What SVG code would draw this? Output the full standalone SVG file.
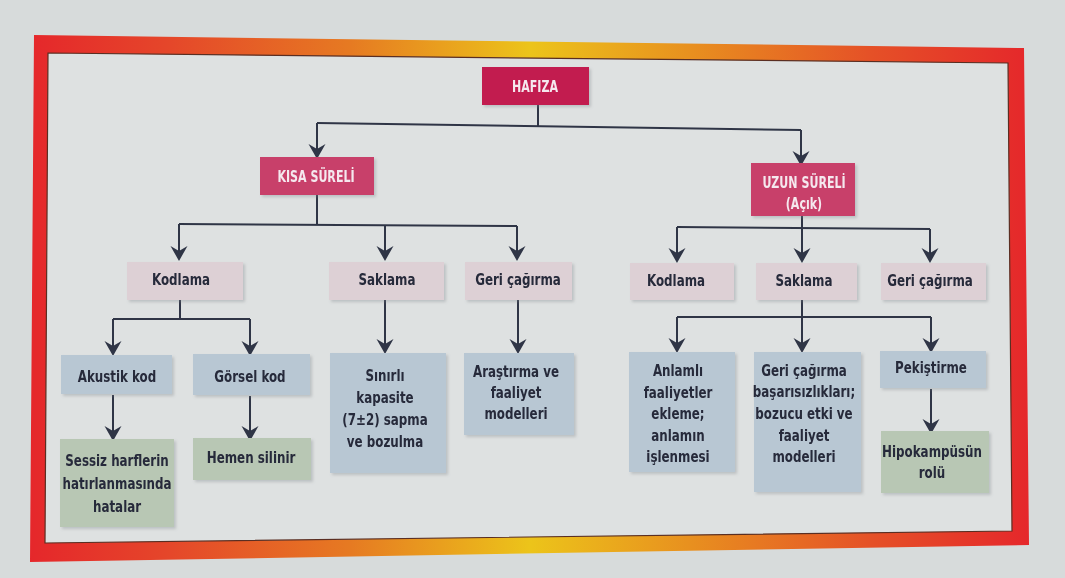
<svg xmlns="http://www.w3.org/2000/svg" width="1065" height="578" viewBox="0 0 1065 578">
  <defs>
    <linearGradient id="frameGrad" gradientUnits="userSpaceOnUse" x1="30" y1="0" x2="1030" y2="0">
      <stop offset="0" stop-color="#e5272b"/>
      <stop offset="0.14" stop-color="#e5472a"/>
      <stop offset="0.32" stop-color="#e67a22"/>
      <stop offset="0.5" stop-color="#ecc41a"/>
      <stop offset="0.66" stop-color="#e8901f"/>
      <stop offset="0.84" stop-color="#e55127"/>
      <stop offset="1" stop-color="#e5272b"/>
    </linearGradient>
    <filter id="shadow" x="-10%" y="-10%" width="125%" height="130%">
      <feDropShadow dx="2" dy="2" stdDeviation="1.5" flood-color="#7d8388" flood-opacity="0.35"/>
    </filter>
    <marker id="arrow" viewBox="-16 -9 17 18" refX="-6" refY="0" markerWidth="17" markerHeight="18" markerUnits="userSpaceOnUse" orient="auto">
      <path d="M0,0 L-15,-8.5 L-10,0 L-15,8.5 Z" fill="#2f3546"/>
    </marker>
    <style>
      text { transform-box: fill-box; transform-origin: center; text-anchor: middle; dominant-baseline: central; font-family: "DejaVu Sans Condensed", "DejaVu Sans", sans-serif; font-weight: bold; font-stretch: condensed; }
      .title { font-size: 15px; fill: #f5e8ee; transform: scaleX(0.82); }
      .lbl { font-size: 16.5px; fill: #272a3a; transform: scaleX(0.8); }
      .main { fill: #c21d50; }
      .sub { fill: #c8416b; }
      .pink { fill: #ddd0d5; }
      .blue { fill: #b8c7d3; }
      .green { fill: #b8c7b4; }
      .conn { fill: none; stroke: #2f3546; stroke-width: 2; }
      .arr { fill: none; stroke: #2f3546; stroke-width: 2; marker-end: url(#arrow); }
    </style>
  </defs>

  <!-- page background -->
  <rect x="0" y="0" width="1065" height="578" fill="#d7dbdb"/>
  <polygon points="48,53 1008,63 1012,531 45,543" fill="#dee1e1"/>

  <!-- frame -->
  <g id="frame">
    <path d="M34,35 L1024,48 L1029,545 L30,562 Z M48,53 L45,543 L1012,531 L1008,63 Z" fill="url(#frameGrad)" fill-rule="evenodd"/>
    <polygon points="48,53 1008,63 1012,531 45,543" fill="none" stroke="#5a2e22" stroke-width="1.2"/>
  </g>

  <!-- connectors -->
  <g id="connectors">
    <path class="conn" d="M538,105 V127"/>
    <path class="conn" d="M317,123 L801,130"/>
    <path class="arr" d="M317,123 V153"/>
    <path class="arr" d="M801,130 V160"/>

    <path class="conn" d="M317,195 V224"/>
    <path class="conn" d="M179,224 L517,226"/>
    <path class="arr" d="M179,224 V255"/>
    <path class="arr" d="M385,225 V255"/>
    <path class="arr" d="M517,226 V255"/>

    <path class="conn" d="M802,216 V228"/>
    <path class="conn" d="M677,227 L930,229"/>
    <path class="arr" d="M677,227 V257"/>
    <path class="arr" d="M802,228 V257"/>
    <path class="arr" d="M930,229 V257"/>

    <path class="conn" d="M180,300 V319"/>
    <path class="conn" d="M113,319 H250"/>
    <path class="arr" d="M113,319 V350"/>
    <path class="arr" d="M250,319 V350"/>

    <path class="arr" d="M113,395 V435"/>
    <path class="arr" d="M250,396 V435"/>

    <path class="arr" d="M385,300 V348"/>
    <path class="arr" d="M518,300 V348"/>

    <path class="conn" d="M802,300 V317"/>
    <path class="conn" d="M677,317 H931"/>
    <path class="arr" d="M677,317 V347"/>
    <path class="arr" d="M802,317 V347"/>
    <path class="arr" d="M931,317 V347"/>

    <path class="arr" d="M931,389 V428"/>
  </g>

  <!-- nodes -->
  <g id="hafiza" filter="url(#shadow)">
    <rect class="main" x="482" y="67" width="107" height="38"/>
    <text class="title" x="535" y="87">HAFIZA</text>
  </g>
  <g id="kisa-sureli" filter="url(#shadow)">
    <rect class="sub" x="260" y="157" width="114" height="38"/>
    <text class="title" x="316" y="177">KISA SÜRELİ</text>
  </g>
  <g id="uzun-sureli" filter="url(#shadow)">
    <rect class="sub" x="751" y="163" width="104" height="53"/>
    <text class="title" x="804" y="183">UZUN SÜRELİ</text>
    <text class="title" x="804" y="204">(Açık)</text>
  </g>

  <g id="ks-kodlama" filter="url(#shadow)">
    <rect class="pink" x="127" y="262" width="116" height="38"/>
    <text class="lbl" x="181" y="279">Kodlama</text>
  </g>
  <g id="ks-saklama" filter="url(#shadow)">
    <rect class="pink" x="329" y="262" width="115" height="38"/>
    <text class="lbl" x="387" y="279">Saklama</text>
  </g>
  <g id="ks-geri" filter="url(#shadow)">
    <rect class="pink" x="465" y="262" width="107" height="38"/>
    <text class="lbl" x="518" y="279">Geri çağırma</text>
  </g>
  <g id="us-kodlama" filter="url(#shadow)">
    <rect class="pink" x="630" y="263" width="104" height="37"/>
    <text class="lbl" x="676" y="280">Kodlama</text>
  </g>
  <g id="us-saklama" filter="url(#shadow)">
    <rect class="pink" x="756" y="263" width="101" height="37"/>
    <text class="lbl" x="804" y="280">Saklama</text>
  </g>
  <g id="us-geri" filter="url(#shadow)">
    <rect class="pink" x="881" y="263" width="105" height="37"/>
    <text class="lbl" x="930" y="280">Geri çağırma</text>
  </g>

  <g id="akustik" filter="url(#shadow)">
    <rect class="blue" x="61" y="355" width="111" height="39"/>
    <text class="lbl" x="117" y="376">Akustik kod</text>
  </g>
  <g id="gorsel" filter="url(#shadow)">
    <rect class="blue" x="193" y="354" width="117" height="41"/>
    <text class="lbl" x="250" y="376">Görsel kod</text>
  </g>
  <g id="sessiz" filter="url(#shadow)">
    <rect class="green" x="60" y="439" width="114" height="88"/>
    <text class="lbl" x="117" y="460">Sessiz harflerin</text>
    <text class="lbl" x="117" y="483">hatırlanmasında</text>
    <text class="lbl" x="117" y="506">hatalar</text>
  </g>
  <g id="hemen" filter="url(#shadow)">
    <rect class="green" x="193" y="438" width="118" height="42"/>
    <text class="lbl" x="251" y="457">Hemen silinir</text>
  </g>
  <g id="sinirli" filter="url(#shadow)">
    <rect class="blue" x="330" y="353" width="116" height="120"/>
    <text class="lbl" x="385" y="375">Sınırlı</text>
    <text class="lbl" x="385" y="397">kapasite</text>
    <text class="lbl" x="385" y="419">(7±2) sapma</text>
    <text class="lbl" x="385" y="441">ve bozulma</text>
  </g>
  <g id="arastirma" filter="url(#shadow)">
    <rect class="blue" x="464" y="353" width="110" height="82"/>
    <text class="lbl" x="516" y="371">Araştırma ve</text>
    <text class="lbl" x="516" y="392">faaliyet</text>
    <text class="lbl" x="516" y="413">modelleri</text>
  </g>
  <g id="anlamli" filter="url(#shadow)">
    <rect class="blue" x="629" y="352" width="106" height="120"/>
    <text class="lbl" x="678" y="370">Anlamlı</text>
    <text class="lbl" x="678" y="392">faaliyetler</text>
    <text class="lbl" x="678" y="413">ekleme;</text>
    <text class="lbl" x="678" y="435">anlamın</text>
    <text class="lbl" x="678" y="456">işlenmesi</text>
  </g>
  <g id="geri-basarisizlik" filter="url(#shadow)">
    <rect class="blue" x="754" y="352" width="107" height="140"/>
    <text class="lbl" x="804" y="370">Geri çağırma</text>
    <text class="lbl" x="804" y="391">başarısızlıkları;</text>
    <text class="lbl" x="804" y="413">bozucu etki ve</text>
    <text class="lbl" x="804" y="435">faaliyet</text>
    <text class="lbl" x="804" y="456">modelleri</text>
  </g>
  <g id="pekistirme" filter="url(#shadow)">
    <rect class="blue" x="880" y="351" width="106" height="37"/>
    <text class="lbl" x="931" y="367">Pekiştirme</text>
  </g>
  <g id="hipokampus" filter="url(#shadow)">
    <rect class="green" x="881" y="431" width="108" height="62"/>
    <text class="lbl" x="932" y="451">Hipokampüsün</text>
    <text class="lbl" x="932" y="472">rolü</text>
  </g>
</svg>
